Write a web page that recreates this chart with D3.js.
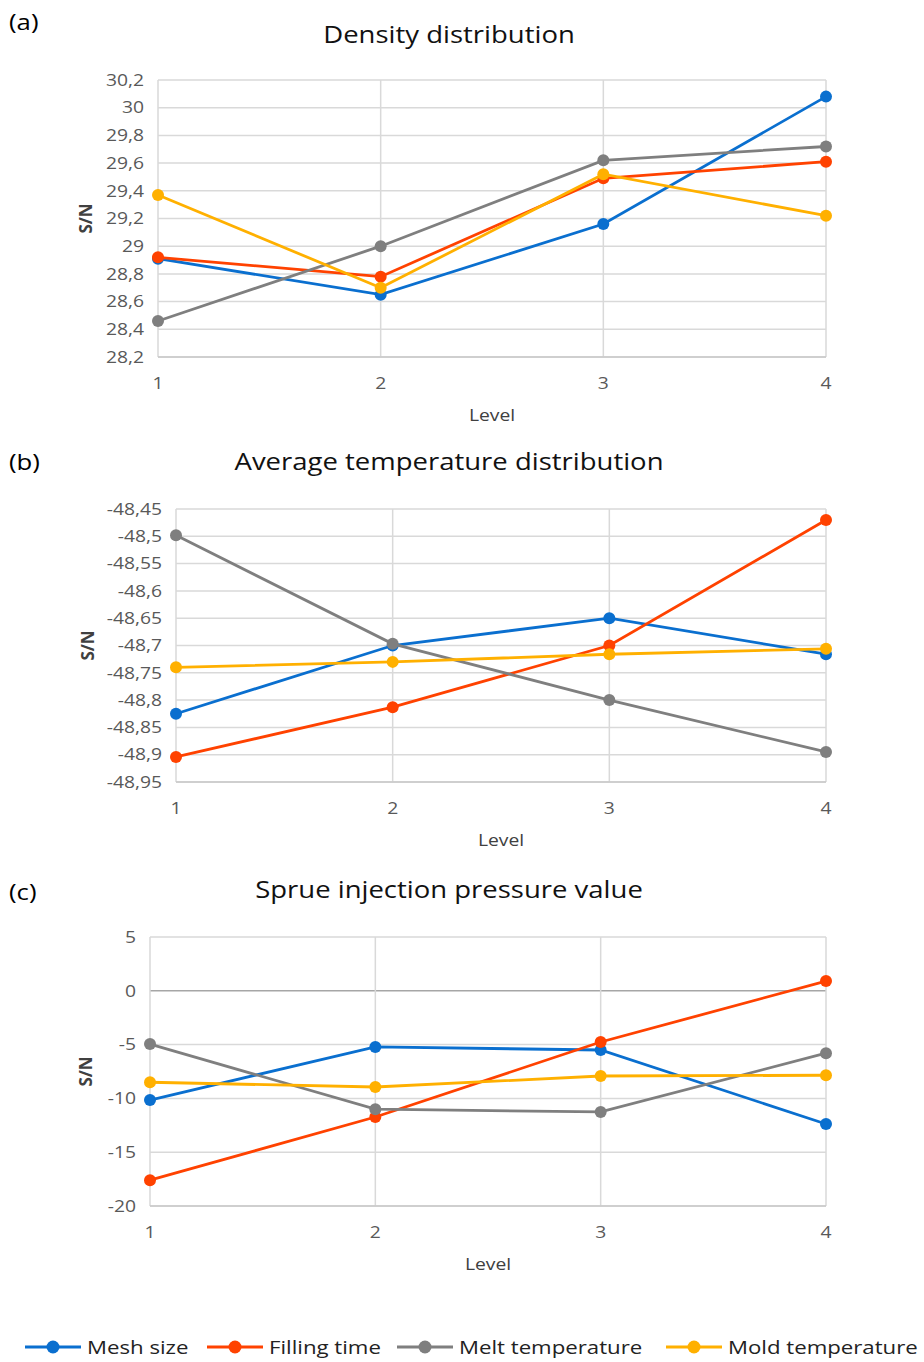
<!DOCTYPE html>
<html><head><meta charset="UTF-8">
<script src="https://d3js.org/d3.v7.min.js"></script>
<style>
  body { margin: 0; background: #fff; }
  text { font-family: "Open Sans", Lato, sans-serif; }
</style>
</head>
<body>
<script>
  "use strict";
  // Levels on the x axis
  const levels = [1, 2, 3, 4];
  const seriesNames = ["Mesh size", "Filling time", "Melt temperature", "Mold temperature"];
  const seriesColors = ["#0a6fcf", "#ff4200", "#7f7f7f", "#ffb000"];

  // (a) Density distribution
  const densityMesh = [28.91, 28.65, 29.16, 30.08];
  const densityFilling = [28.92, 28.78, 29.49, 29.61];
  const densityMelt = [28.46, 29.0, 29.62, 29.72];
  const densityMold = [29.37, 28.70, 29.52, 29.22];
  const densityTicks = [28.2, 28.4, 28.6, 28.8, 29, 29.2, 29.4, 29.6, 29.8, 30, 30.2];

  // (b) Average temperature distribution
  const tempMesh = [-48.825, -48.70, -48.65, -48.716];
  const tempFilling = [-48.904, -48.813, -48.70, -48.47];
  const tempMelt = [-48.498, -48.697, -48.80, -48.895];
  const tempMold = [-48.74, -48.73, -48.716, -48.706];
  const tempTicks = [-48.95, -48.9, -48.85, -48.8, -48.75, -48.7, -48.65, -48.6, -48.55, -48.5, -48.45];

  // (c) Sprue injection pressure value
  const pressureMesh = [-10.15, -5.22, -5.5, -12.38];
  const pressureFilling = [-17.6, -11.73, -4.76, 0.9];
  const pressureMelt = [-4.95, -11.0, -11.26, -5.8];
  const pressureMold = [-8.5, -8.94, -7.92, -7.85];
  const pressureTicks = [-20, -15, -10, -5, 0, 5];

  const fmt = d3.formatLocale({decimal: ",", thousands: ".", grouping: [3], currency: ["", ""], minus: "-"}).format("~g");
  const SX = 1.17; // the original figure is a little wider than tall, text looks stretched

  const svg = d3.select("body").append("svg")
      .attr("width", 924)
      .attr("height", 1362);

  // place text at (x,y) with the horizontal stretch
  function place(sel, x, y) {
    return sel.attr("transform", (d, i) =>
      `translate(${typeof x === "function" ? x(d, i) : x},${typeof y === "function" ? y(d, i) : y}) scale(${SX},1)`);
  }

  function drawPanel(p) {
    const g = svg.append("g");
    const x = d3.scaleLinear().domain([1, 4]).range([p.left, p.right]);
    const y = d3.scaleLinear().domain(d3.extent(p.ticks)).range([p.bottom, p.top]);

    // panel letter and title
    place(g.append("text"), 9, p.labelY)
        .style("font-size", "22px").style("fill", "#000").text(p.label);
    place(g.append("text"), 449, p.titleY)
        .attr("text-anchor", "middle")
        .style("font-size", "23.5px").style("fill", "#111").text(p.title);

    // horizontal grid
    g.append("g").selectAll("line").data(p.ticks).join("line")
        .attr("x1", p.left).attr("x2", p.right)
        .attr("y1", d => y(d)).attr("y2", d => y(d))
        .attr("stroke", d => (d === 0 && p.zeroLine) ? "#a6a6a6" : "#d9d9d9")
        .attr("stroke-width", 1.5);
    // vertical grid
    g.append("g").selectAll("line").data(levels).join("line")
        .attr("x1", d => x(d)).attr("x2", d => x(d))
        .attr("y1", p.top).attr("y2", p.bottom)
        .attr("stroke", "#d9d9d9").attr("stroke-width", 1.5);
    // bottom axis line
    g.append("line").attr("x1", p.left).attr("x2", p.right)
        .attr("y1", p.bottom).attr("y2", p.bottom)
        .attr("stroke", "#c8c8c8").attr("stroke-width", 1.5);

    // y tick labels
    place(g.append("g").selectAll("text").data(p.ticks).join("text"), p.left - 14, d => y(d))
        .attr("dy", "0.35em").attr("text-anchor", "end")
        .style("font-size", "16.5px").style("fill", "#595959")
        .text(d => fmt(d));
    // x tick labels
    place(g.append("g").selectAll("text").data(levels).join("text"), d => x(d), p.bottom + 26)
        .attr("dy", "0.35em").attr("text-anchor", "middle")
        .style("font-size", "16.5px").style("fill", "#595959")
        .text(d => d);

    // axis titles
    g.append("text")
        .attr("transform", `translate(${p.yTitleX},${(p.top + p.bottom) / 2}) rotate(-90)`)
        .attr("text-anchor", "middle").attr("dy", "0.35em")
        .style("font-size", "17px").style("font-weight", "bold").style("fill", "#404040")
        .text("S/N");
    place(g.append("text"), (p.left + p.right) / 2, p.bottom + 58)
        .attr("text-anchor", "middle").attr("dy", "0.35em")
        .style("font-size", "16.5px").style("fill", "#404040")
        .text("Level");

    // series lines and markers
    const line = d3.line().x((d, i) => x(levels[i])).y(d => y(d));
    p.series.forEach((vals, k) => {
      g.append("path").datum(vals)
          .attr("d", line).attr("fill", "none")
          .attr("stroke", seriesColors[k]).attr("stroke-width", 2.8);
      g.append("g").selectAll("circle").data(vals).join("circle")
          .attr("cx", (d, i) => x(levels[i])).attr("cy", d => y(d))
          .attr("r", 6).attr("fill", seriesColors[k]);
    });
  }

  drawPanel({label: "(a)", labelY: 30, title: "Density distribution", titleY: 43,
    left: 158, right: 826, top: 80, bottom: 357, yTitleX: 86,
    ticks: densityTicks, series: [densityMesh, densityFilling, densityMelt, densityMold]});
  drawPanel({label: "(b)", labelY: 470, title: "Average temperature distribution", titleY: 470,
    left: 176, right: 826, top: 509, bottom: 782, yTitleX: 88,
    ticks: tempTicks, series: [tempMesh, tempFilling, tempMelt, tempMold]});
  drawPanel({label: "(c)", labelY: 900, title: "Sprue injection pressure value", titleY: 898,
    left: 150, right: 826, top: 937, bottom: 1206, yTitleX: 86, zeroLine: true,
    ticks: pressureTicks, series: [pressureMesh, pressureFilling, pressureMelt, pressureMold]});

  // legend along the bottom
  const legend = svg.append("g").attr("transform", "translate(0,1347)");
  const legendX = [25, 207, 397, 666];
  seriesNames.forEach((name, k) => {
    const item = legend.append("g").attr("transform", `translate(${legendX[k]},0)`);
    item.append("line").attr("x1", 0).attr("x2", 56).attr("y1", 0).attr("y2", 0)
        .attr("stroke", seriesColors[k]).attr("stroke-width", 3.2);
    item.append("circle").attr("cx", 28).attr("cy", 0).attr("r", 6.5).attr("fill", seriesColors[k]);
    place(item.append("text"), 62, 0).attr("dy", "0.35em")
        .style("font-size", "19px").style("fill", "#222").text(name);
  });
</script>
</body>
</html>
